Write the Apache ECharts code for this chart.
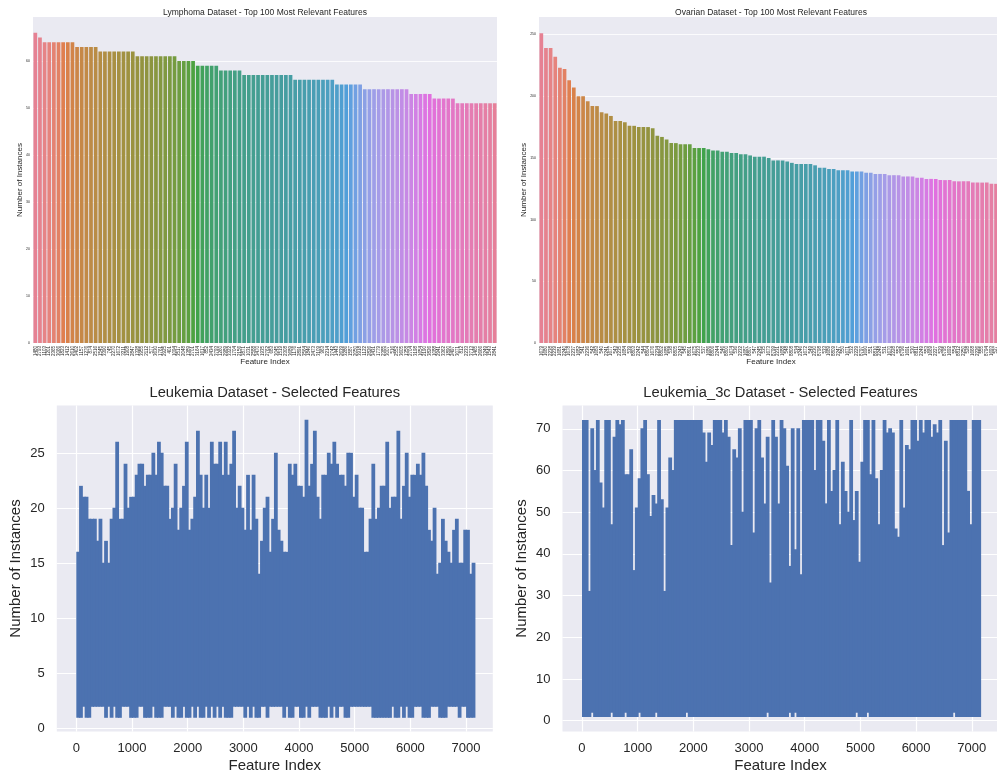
<!DOCTYPE html>
<html>
<head>
<meta charset="utf-8">
<title>Selected features per dataset</title>
<script src="https://cdn.jsdelivr.net/npm/echarts@6/dist/echarts.min.js"></script>
<style>
  html, body { margin: 0; padding: 0; background: #fff; }
  #chart { width: 997px; height: 775px; }
</style>
</head>
<body>
<div id="chart"></div>
<script>
// ---- values ----
const lymphomaFeatures = [
  1480, 2793, 1103, 1201, 2365, 3066, 1823, 1412, 2610, 3402,
  1157, 1276, 874, 2516, 1545, 3390, 745, 2270, 1672, 3211,
  1908, 2847, 1328, 3955, 2112, 577, 3630, 1761, 2925, 401,
  1094, 3517, 2048, 1389, 2701, 3164, 1617, 852, 2434, 3793,
  1260, 2989, 3322, 1704, 2156, 3871, 1031, 2588, 3470, 1935,
  2762, 683, 3045, 1519, 2308, 3689, 1176, 2891, 3564, 1846,
  2473, 3109, 963, 2214, 3742, 1443, 2639, 3286, 1587, 2050,
  3918, 1122, 2826, 3431, 1779, 2385, 3007, 516, 2552, 3605,
  1358, 2704, 3198, 1654, 2190, 3826, 1088, 2941, 3362, 1890,
  2497, 3071, 812, 2233, 3713, 1465, 2666, 3249, 1543, 2841
];
const lymphomaCounts = [
  66, 65, 64, 64, 64, 64, 64, 64, 64, 63,
  63, 63, 63, 63, 62, 62, 62, 62, 62, 62,
  62, 62, 61, 61, 61, 61, 61, 61, 61, 61,
  61, 60, 60, 60, 60, 59, 59, 59, 59, 59,
  58, 58, 58, 58, 58, 57, 57, 57, 57, 57,
  57, 57, 57, 57, 57, 57, 56, 56, 56, 56,
  56, 56, 56, 56, 56, 55, 55, 55, 55, 55,
  55, 54, 54, 54, 54, 54, 54, 54, 54, 54,
  54, 53, 53, 53, 53, 53, 52, 52, 52, 52,
  52, 51, 51, 51, 51, 51, 51, 51, 51, 51
];
const ovarianFeatures = [
  1679, 1680, 2238, 2239, 1681, 2240, 1678, 2237, 1682, 541,
  2236, 542, 1683, 540, 2241, 1677, 543, 2235, 1684, 539,
  8803, 2242, 544, 8804, 1676, 2234, 8802, 1685, 538, 8805,
  2243, 545, 8801, 1675, 2233, 537, 1686, 8806, 2244, 546,
  8800, 1674, 536, 2232, 1687, 8807, 547, 2245, 535, 1673,
  8799, 2231, 1688, 548, 8808, 534, 2246, 1672, 549, 2230,
  8798, 533, 1689, 8809, 2247, 550, 1671, 532, 2229, 8797,
  1690, 551, 8810, 2248, 531, 1670, 2228, 552, 8796, 1691,
  530, 8811, 2249, 553, 1669, 2227, 529, 8795, 1692, 554,
  8812, 2250, 528, 1668, 2226, 555, 8794, 1693, 527, 8813
];
const ovarianCounts = [
  251, 239, 239, 232, 223, 222, 213, 207, 200, 200,
  196, 192, 192, 187, 186, 184, 180, 180, 179, 176,
  176, 175, 175, 175, 174, 168, 167, 165, 162, 162,
  161, 161, 161, 158, 158, 158, 157, 156, 156, 155,
  155, 154, 154, 153, 153, 152, 151, 151, 151, 150,
  148, 148, 148, 147, 146, 145, 145, 145, 145, 144,
  142, 142, 141, 141, 140, 140, 140, 139, 139, 139,
  138, 138, 137, 137, 137, 136, 136, 136, 135, 135,
  135, 134, 134, 133, 133, 133, 132, 132, 132, 131,
  131, 131, 131, 130, 130, 130, 130, 129, 129, 129
];

// the two leukemia lines have ~7129 points each; they are kept as the
// highest and lowest value inside every 50-feature bin (one row = 1000 features)
const BIN = 50;
const leukemiaMax = [
  16, 22, 21, 21, 19, 19, 19, 17, 19, 15, 17, 15, 19, 20, 26, 19, 19, 24, 20, 21,
  21, 23, 24, 24, 22, 23, 23, 25, 23, 26, 25, 22, 22, 19, 20, 24, 18, 20, 22, 26,
  18, 19, 21, 27, 23, 20, 23, 20, 26, 24, 24, 26, 23, 26, 23, 24, 27, 20, 22, 20,
  18, 23, 18, 23, 19, 14, 17, 20, 21, 16, 19, 25, 18, 17, 16, 16, 24, 23, 24, 22,
  22, 21, 28, 22, 24, 27, 21, 19, 23, 23, 25, 24, 26, 24, 23, 23, 22, 25, 25, 21,
  23, 20, 20, 16, 16, 19, 24, 19, 20, 22, 22, 26, 20, 21, 21, 27, 19, 22, 25, 21,
  23, 23, 24, 23, 25, 22, 18, 17, 20, 14, 15, 19, 17, 16, 15, 18, 19, 15, 15, 18,
  18, 14, 15
];
const leukemiaMin = [
  1, 1, 2, 1, 1, 2, 2, 2, 2, 2, 1, 2, 1, 2, 1, 1, 2, 2, 2, 1,
  1, 1, 2, 2, 1, 1, 1, 2, 1, 1, 1, 2, 2, 2, 1, 2, 1, 1, 2, 1,
  1, 2, 1, 2, 1, 1, 2, 1, 2, 1, 2, 1, 2, 1, 1, 1, 2, 2, 2, 2,
  1, 2, 1, 2, 1, 1, 2, 2, 1, 2, 2, 2, 2, 2, 1, 2, 1, 1, 2, 2,
  1, 1, 2, 1, 2, 2, 2, 1, 1, 1, 2, 1, 2, 1, 2, 2, 1, 1, 2, 2,
  2, 2, 2, 2, 2, 2, 1, 1, 1, 1, 1, 1, 1, 2, 1, 1, 2, 1, 2, 1,
  1, 2, 2, 2, 1, 1, 1, 2, 2, 2, 1, 1, 1, 2, 2, 2, 2, 1, 2, 2,
  1, 1, 1
];
const leukemia3cMax = [
  72, 72, 31, 70, 60, 72, 57, 51, 72, 72, 47, 68, 72, 71, 72, 59, 59, 65, 36, 51,
  58, 70, 72, 59, 49, 54, 52, 72, 53, 31, 51, 63, 60, 72, 72, 72, 72, 72, 72, 72,
  72, 72, 72, 69, 62, 69, 66, 72, 72, 72, 69, 72, 68, 42, 65, 63, 70, 50, 72, 72,
  72, 45, 70, 72, 63, 52, 68, 33, 72, 68, 52, 72, 70, 61, 37, 70, 41, 70, 35, 72,
  72, 72, 72, 60, 72, 72, 67, 52, 72, 55, 60, 72, 47, 62, 55, 50, 72, 48, 55, 38,
  62, 72, 72, 59, 72, 58, 47, 60, 72, 69, 70, 69, 46, 44, 72, 51, 66, 65, 72, 72,
  67, 72, 69, 72, 72, 68, 71, 69, 72, 42, 67, 45, 72, 72, 72, 72, 72, 72, 55, 47,
  72, 72, 72
];
const leukemia3cMin = [
  1, 1, 1, 2, 1, 1, 1, 1, 1, 1, 2, 1, 1, 1, 1, 2, 1, 1, 1, 1,
  2, 1, 1, 1, 1, 1, 2, 1, 1, 1, 1, 1, 1, 1, 1, 1, 1, 2, 1, 1,
  1, 1, 1, 1, 1, 1, 1, 1, 1, 1, 1, 1, 1, 1, 1, 1, 1, 1, 1, 1,
  1, 1, 1, 1, 1, 1, 2, 1, 1, 1, 1, 1, 1, 1, 2, 1, 2, 1, 1, 1,
  1, 1, 1, 1, 1, 1, 1, 1, 1, 1, 1, 1, 1, 1, 1, 1, 1, 1, 2, 1,
  1, 1, 2, 1, 1, 1, 1, 1, 1, 1, 1, 1, 1, 1, 1, 1, 1, 1, 1, 1,
  1, 1, 1, 1, 1, 1, 1, 1, 1, 1, 1, 1, 1, 2, 1, 1, 1, 1, 1, 1,
  1, 1, 1
];

const lymphomaTicks = [0, 10, 20, 30, 40, 50, 60];
const ovarianTicks = [0, 50, 100, 150, 200, 250];
const leukemiaTicks = [0, 5, 10, 15, 20, 25];
const leukemia3cTicks = [0, 10, 20, 30, 40, 50, 60, 70];
const featureTicks = [0, 1000, 2000, 3000, 4000, 5000, 6000, 7000];

const FONT = 'Liberation Sans, Arial, sans-serif';
const INK = '#262626';
const BG = '#eaeaf2';
const BLUE = '#4c72b0';

// seaborn husl palette (h=.01, s=.9, l=.65), desaturated to 0.75 like barplot
const M = [
  [3.240969941904521, -1.537383177570093, -0.498610760293],
  [-0.96924363628087, 1.87596750150772, 0.041555057407175],
  [0.055630079696993, -0.20397695888897, 1.056971514242878]
];
const KAPPA = 903.2962962, EPS = 0.0088564516;
function maxChroma(L, H) {
  const hr = H / 360 * 2 * Math.PI;
  const sub1 = Math.pow(L + 16, 3) / 1560896;
  const sub2 = sub1 > EPS ? sub1 : L / KAPPA;
  let best = Infinity;
  M.forEach(([m1, m2, m3]) => {
    [0, 1].forEach(t => {
      const top1 = (284517 * m1 - 94839 * m3) * sub2;
      const top2 = (838422 * m3 + 769860 * m2 + 731718 * m1) * L * sub2 - 769860 * t * L;
      const bottom = (632260 * m3 - 126452 * m2) * sub2 + 126452 * t;
      const len = (top2 / bottom) / (Math.sin(hr) - (top1 / bottom) * Math.cos(hr));
      if (len >= 0) best = Math.min(best, len);
    });
  });
  return best;
}
function huslToRgb(H, S, L) {
  const C = maxChroma(L, H) / 100 * S;
  const hr = H / 360 * 2 * Math.PI;
  const U = Math.cos(hr) * C, V = Math.sin(hr) * C;
  const Y = L > 8 ? Math.pow((L + 16) / 116, 3) : L / KAPPA;
  const vu = U / (13 * L) + 0.19783000664283;
  const vv = V / (13 * L) + 0.46831999493879;
  const X = -(9 * Y * vu) / ((vu - 4) * vv - vu * vv);
  const Z = (9 * Y - 15 * vv * Y - vv * X) / (3 * vv);
  return M.map(r => {
    const c = r[0] * X + r[1] * Y + r[2] * Z;
    const v = c <= 0.0031308 ? 12.92 * c : 1.055 * Math.pow(c, 1 / 2.4) - 0.055;
    return Math.min(1, Math.max(0, v));
  });
}
function desaturate([r, g, b], f) {
  const mx = Math.max(r, g, b), mn = Math.min(r, g, b), l = (mx + mn) / 2;
  if (mx === mn) return [r, g, b];
  const d = mx - mn;
  let s = l <= 0.5 ? d / (mx + mn) : d / (2 - mx - mn);
  let h = mx === r ? (g - b) / d : mx === g ? (b - r) / d + 2 : (r - g) / d + 4;
  h = ((h / 6) % 1 + 1) % 1;
  s *= f;
  const q = l < 0.5 ? l * (1 + s) : l + s - l * s, p = 2 * l - q;
  const ch = t => {
    t = (t % 1 + 1) % 1;
    if (t < 1 / 6) return p + (q - p) * 6 * t;
    if (t < 1 / 2) return q;
    if (t < 2 / 3) return p + (q - p) * (2 / 3 - t) * 6;
    return p;
  };
  return [ch(h + 1 / 3), ch(h), ch(h - 1 / 3)];
}
function huslPalette(n) {
  const out = [];
  for (let i = 0; i < n; i++) {
    const h = ((i / n + 0.01) % 1) * 359;
    const rgb = desaturate(huslToRgb(h, 89.1, 64.35), 0.75);
    out.push('rgb(' + rgb.map(c => Math.round(c * 255)).join(',') + ')');
  }
  return out;
}
const palette = huslPalette(100);

function title(text, x, y, size) {
  return {
    text, left: x, top: y, textAlign: 'center', padding: 0,
    textStyle: { fontSize: size, fontWeight: 'normal', color: INK, fontFamily: FONT }
  };
}
function catAxis(idx, names) {
  return {
    gridIndex: idx, type: 'category', data: names.map(String),
    name: 'Feature Index', nameLocation: 'middle', nameGap: 15, nameMoveOverlap: false,
    nameTextStyle: { fontSize: 8, color: INK, fontFamily: FONT },
    axisLine: { show: false }, axisTick: { show: false }, splitLine: { show: false },
    axisLabel: { interval: 0, rotate: 90, fontSize: 4.5, color: INK, fontFamily: FONT, margin: 3 }
  };
}
function valAxis(idx, min, max, ticks, opts) {
  return {
    gridIndex: idx, type: 'value', min, max,
    name: opts.name, nameLocation: 'middle', nameGap: opts.gap, nameMoveOverlap: false,
    nameTextStyle: { fontSize: opts.nameSize, color: INK, fontFamily: FONT },
    axisLine: { show: false },
    axisTick: { show: false, customValues: ticks },
    axisLabel: { customValues: ticks, fontSize: opts.size, color: INK, fontFamily: FONT, margin: opts.margin },
    splitLine: { show: true, lineStyle: { color: '#ffffff', width: opts.lineWidth } }
  };
}
function bars(idx, counts) {
  return {
    type: 'bar', xAxisIndex: idx, yAxisIndex: idx, barCategoryGap: '20%', silent: true,
    data: counts.map((v, i) => ({ value: v, itemStyle: { color: palette[i] } }))
  };
}
// the dense line, drawn bin by bin as a column from the bin's lowest to its
// highest value; each column overlaps the next by a pixel so no seams show
function binColumns(idx, maxArr, minArr) {
  return {
    type: 'custom', xAxisIndex: idx, yAxisIndex: idx, silent: true,
    data: maxArr.map((v, i) => [i * BIN + BIN / 2, v, minArr[i]]),
    renderItem: (params, api) => {
      const a = api.coord([api.value(0) - BIN / 2, api.value(1)]);
      const b = api.coord([api.value(0) + BIN / 2, api.value(2)]);
      return {
        type: 'rect',
        shape: { x: a[0], y: a[1] - 0.5, width: b[0] - a[0] + 1, height: b[1] - a[1] + 1 },
        style: { fill: BLUE }
      };
    }
  };
}

const topY = { name: 'Number of Instances', nameSize: 8, size: 3.5, margin: 3, lineWidth: 0.8 };
const lowY = { name: 'Number of Instances', nameSize: 15, size: 13, margin: 12, lineWidth: 1.2, gap: 33 };
const lowX = {
  type: 'value', min: -350, max: 7480,
  name: 'Feature Index', nameLocation: 'middle', nameGap: 27, nameMoveOverlap: false,
  nameTextStyle: { fontSize: 15, color: INK, fontFamily: FONT },
  axisLine: { show: false },
  axisTick: { show: false, customValues: featureTicks },
  axisLabel: {
    customValues: featureTicks, fontSize: 13, color: INK, fontFamily: FONT, margin: 10,
    formatter: v => String(v)
  },
  splitLine: { show: true, lineStyle: { color: '#ffffff', width: 1.2 } }
};

const chart = echarts.init(document.getElementById('chart'));
const gridBase = { show: true, backgroundColor: BG, borderWidth: 0, containLabel: false, outerBoundsMode: 'none' };
chart.setOption({
  animation: false,
  backgroundColor: '#ffffff',
  textStyle: { fontFamily: FONT },
  title: [
    title('Lymphoma Dataset - Top 100 Most Relevant Features', 265, 8, 8.5),
    title('Ovarian Dataset - Top 100 Most Relevant Features', 771, 8, 8.5),
    title('Leukemia Dataset - Selected Features', 274.8, 385, 14.7),
    title('Leukemia_3c Dataset - Selected Features', 780.5, 385, 14.7)
  ],
  grid: [
    Object.assign({ left: 33, top: 17, width: 464, height: 326 }, gridBase),
    Object.assign({ left: 539, top: 17, width: 464, height: 326 }, gridBase),
    Object.assign({ left: 56.8, top: 405.5, width: 436, height: 326 }, gridBase),
    Object.assign({ left: 562.5, top: 405.5, width: 436, height: 326 }, gridBase)
  ],
  xAxis: [
    catAxis(0, lymphomaFeatures),
    catAxis(1, ovarianFeatures),
    Object.assign({ gridIndex: 2 }, lowX),
    Object.assign({ gridIndex: 3 }, lowX)
  ],
  yAxis: [
    valAxis(0, 0, 69.36, lymphomaTicks, Object.assign({ gap: 9 }, topY)),
    valAxis(1, 0, 264.2, ovarianTicks, Object.assign({ gap: 11 }, topY)),
    valAxis(2, -0.29, 29.35, leukemiaTicks, lowY),
    valAxis(3, -2.6, 75.6, leukemia3cTicks, lowY)
  ],
  series: [
    bars(0, lymphomaCounts),
    bars(1, ovarianCounts),
    binColumns(2, leukemiaMax, leukemiaMin),
    binColumns(3, leukemia3cMax, leukemia3cMin)
  ]
});
</script>
</body>
</html>
